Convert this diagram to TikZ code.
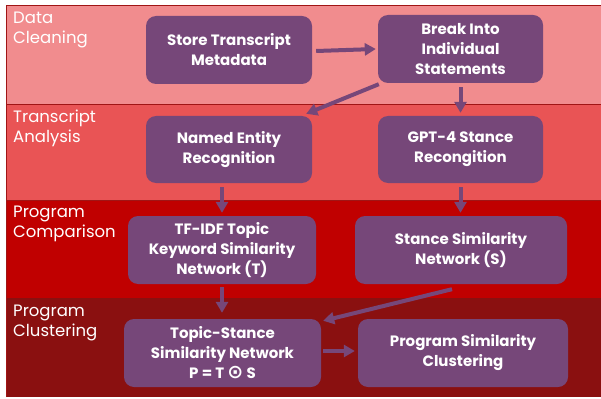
\documentclass[tikz,border=0pt]{standalone}
\usepackage{fontspec}
\setmainfont{Poppins}
\newfontfamily\symfont{DejaVu Sans}
\usetikzlibrary{arrows.meta}
\definecolor{bandA}{HTML}{F18C8E}
\definecolor{bandB}{HTML}{E95455}
\definecolor{bandC}{HTML}{C00000}
\definecolor{bandD}{HTML}{8A1010}
\definecolor{edgecol}{HTML}{A01515}
\definecolor{boxcol}{HTML}{764779}
\tikzset{
  stepbox/.style={draw=none, fill=boxcol, rounded corners=10pt, text=white,
    font=\bfseries\fontsize{15}{20}\selectfont, align=center, inner sep=0pt},
  bandlabel/.style={anchor=north west, text=white, align=left, inner sep=0pt,
    font=\fontsize{16.5}{20}\selectfont},
  arr/.style={draw=boxcol, line width=4pt, -{Triangle[length=11pt,width=12pt]}}
}
\begin{document}
\begin{tikzpicture}[x=1pt,y=-1pt]
\useasboundingbox (0,0) rectangle (601,398);
\fill[white] (0,0) rectangle (601,398);
\fill[bandA] (6,6) rectangle (601,105);
\fill[bandB] (6,105) rectangle (601,200);
\fill[bandC] (6,200) rectangle (601,298);
\fill[bandD] (6,298) rectangle (601,397);
\draw[edgecol, line width=1pt] (6,397) -- (6,6) -- (601,6);
\draw[edgecol, line width=1pt] (6,105) -- (601,105);
\draw[edgecol, line width=1pt] (6,200) -- (601,200);

\node[bandlabel] (l1) at (13,12) {Data\\Cleaning};
\node[bandlabel] (l2) at (13,110) {Transcript\\Analysis};
\node[bandlabel] (l3) at (13,206) {Program\\Comparison};
\node[bandlabel] (l4) at (13,305) {Program\\Clustering};

\node[stepbox, minimum width=166pt, minimum height=68pt] (store) at (229,50) {Store Transcript\\Metadata};
\node[stepbox, minimum width=165pt, minimum height=68pt] (break) at (460.5,49) {Break Into\\Individual\\Statements};
\node[stepbox, minimum width=166pt, minimum height=67pt] (named) at (229,149.5) {Named Entity\\Recognition};
\node[stepbox, minimum width=165pt, minimum height=67pt] (gpt) at (460.5,149.5) {GPT-4 Stance\\Recongition};
\node[stepbox, minimum width=188pt, minimum height=68pt] (tfidf) at (222,250) {TF-IDF Topic\\Keyword Similarity\\Network (T)};
\node[stepbox, minimum width=212pt, minimum height=68pt] (stance) at (461,250) {Stance Similarity\\Network (S)};
\node[stepbox, minimum width=197pt, minimum height=68pt] (topic) at (222.5,353) {Topic-Stance\\Similarity Network\\P = T {\symfont\fontsize{19}{20}\selectfont ⊙} S};
\node[stepbox, minimum width=210pt, minimum height=68pt] (prog) at (463,353) {Program Similarity\\Clustering};

\draw[arr] ([xshift=4pt,yshift=-1pt]store.east) -- ([xshift=-2pt]break.west);
\draw[arr] ([xshift=1pt,yshift=-1pt]break.south west) -- ([xshift=-6pt,yshift=2pt]named.north east);
\draw[arr, shorten <=4pt, shorten >=3pt] (break.south) -- (gpt.north);
\draw[arr, shorten <=4pt, shorten >=3pt] (tfidf.north |- named.south) -- (tfidf.north);
\draw[arr, shorten <=4pt, shorten >=3pt] (gpt.south) -- (stance.north -| gpt.south);
\draw[arr, shorten <=3pt, shorten >=6pt] (tfidf.south) -- (tfidf.south |- topic.north);
\draw[arr] ([xshift=-9pt,yshift=-5pt]stance.south) -- ([xshift=2pt,yshift=-2pt]topic.north east);
\draw[arr, shorten <=2pt, shorten >=3pt] ([yshift=2pt]topic.east) -- ([yshift=2pt]prog.west);
\end{tikzpicture}
\end{document}
